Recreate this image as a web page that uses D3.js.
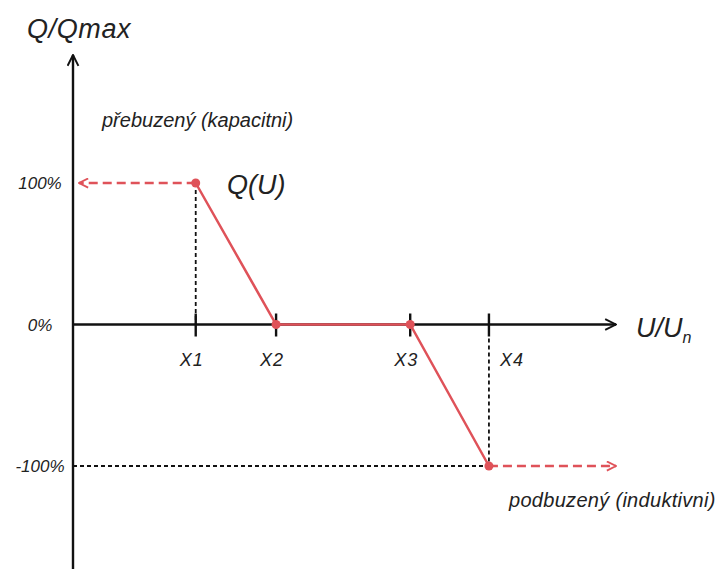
<!DOCTYPE html>
<html>
<head>
<meta charset="utf-8">
<script src="https://cdn.jsdelivr.net/npm/d3@7"></script>
<style>
  body { margin: 0; background: #fff; }
  text { font-family: "Liberation Sans", Arial, sans-serif; font-style: italic; fill: #222; }
</style>
</head>
<body>
<div id="chart"></div>
<script>
// points of the Q(U) curve
const pointLabels = ['X1', 'X2', 'X3', 'X4'];
const pointU = [22.6, 37.4, 62.1, 76.6];   // U/Un position (relative units)
const pointQ = [100, 0, 0, -100];          // Q/Qmax in %
const qTicks = [100, 0, -100];
const qTickLabels = ['100%', '0%', '-100%'];

const width = 717, height = 569;
const red = '#df5259';

const svg = d3.select('#chart').append('svg')
    .attr('width', width)
    .attr('height', height);

let x = d3.scaleLinear().domain([0, 100]).range([73, 616]);
let y = d3.scaleLinear().domain([-100, 100]).range([466, 183]);

let defs = svg.append('defs');
defs.append('marker')
    .attr('id', 'arrowBlack')
    .attr('viewBox', '0 0 12 12')
    .attr('refX', 11).attr('refY', 6)
    .attr('markerWidth', 13).attr('markerHeight', 13)
    .attr('markerUnits', 'userSpaceOnUse')
    .attr('orient', 'auto')
    .append('path')
    .attr('d', 'M1,1 L11,6 L1,11')
    .attr('fill', 'none')
    .attr('stroke', '#111')
    .attr('stroke-width', 1.8);
defs.append('marker')
    .attr('id', 'arrowRed')
    .attr('viewBox', '0 0 12 12')
    .attr('refX', 11).attr('refY', 6)
    .attr('markerWidth', 11).attr('markerHeight', 11)
    .attr('markerUnits', 'userSpaceOnUse')
    .attr('orient', 'auto')
    .append('path')
    .attr('d', 'M1,1 L11,6 L1,11')
    .attr('fill', 'none')
    .attr('stroke', red)
    .attr('stroke-width', 2);

// * AXES * //
let x0 = x(0), y0 = y(0);
svg.append('line')
    .attr('x1', x0).attr('y1', height)
    .attr('x2', x0).attr('y2', 55)
    .attr('stroke', '#111').attr('stroke-width', 2.4)
    .attr('marker-end', 'url(#arrowBlack)');
svg.append('line')
    .attr('x1', x0).attr('y1', y0)
    .attr('x2', x(100)).attr('y2', y0)
    .attr('stroke', '#111').attr('stroke-width', 2.4)
    .attr('marker-end', 'url(#arrowBlack)');

svg.append('text').text('Q/Qmax')
    .attr('x', 27).attr('y', 38)
    .style('font-size', '27px')
    .style('letter-spacing', '0.6px');
let un = svg.append('text')
    .attr('x', 636).attr('y', 337)
    .style('font-size', '27px');
un.append('tspan').text('U/U');
un.append('tspan').text('n').attr('dy', 6).style('font-size', '16px');

// q tick labels
svg.selectAll('.q-label')
    .data(qTicks)
    .enter()
    .append('text')
    .attr('class', 'q-label')
    .text((d, i) => qTickLabels[i])
    .attr('x', 40)
    .attr('y', (d) => y(d) + 6)
    .attr('text-anchor', 'middle')
    .style('font-size', '17px');

// guide lines (black dashed)
let guides = [
    [pointU[0], pointQ[0], pointU[0], 0],
    [pointU[3], 0, pointU[3], pointQ[3]],
    [0, pointQ[3], pointU[3], pointQ[3]]
];
svg.selectAll('.guide')
    .data(guides)
    .enter()
    .append('line')
    .attr('class', 'guide')
    .attr('x1', (d) => x(d[0])).attr('y1', (d) => y(d[1]))
    .attr('x2', (d) => x(d[2])).attr('y2', (d) => y(d[3]))
    .attr('stroke', '#111')
    .attr('stroke-width', 1.8)
    .attr('stroke-dasharray', '4,3');

// ticks on x axis
svg.selectAll('.x-tick')
    .data(pointU)
    .enter()
    .append('line')
    .attr('class', 'x-tick')
    .attr('x1', (d) => x(d)).attr('x2', (d) => x(d))
    .attr('y1', y0 - 11).attr('y2', y0 + 12)
    .attr('stroke', '#111').attr('stroke-width', 2.4);

svg.selectAll('.x-label')
    .data(pointLabels)
    .enter()
    .append('text')
    .attr('class', 'x-label')
    .text((d) => d)
    .attr('x', (d, i) => i == 3 ? x(pointU[i]) + 11 : x(pointU[i]) - 4)
    .attr('y', 366)
    .attr('text-anchor', (d, i) => i == 3 ? 'start' : 'middle')
    .style('font-size', '18px')
    .style('letter-spacing', '1px');

// red dashed extensions
svg.append('line')
    .attr('x1', x(pointU[0])).attr('y1', y(pointQ[0]))
    .attr('x2', x0 + 6).attr('y2', y(pointQ[0]))
    .attr('stroke', red).attr('stroke-width', 2.4)
    .attr('stroke-dasharray', '9,5')
    .attr('marker-end', 'url(#arrowRed)');
svg.append('line')
    .attr('x1', x(pointU[3])).attr('y1', y(pointQ[3]))
    .attr('x2', x(100)).attr('y2', y(pointQ[3]))
    .attr('stroke', red).attr('stroke-width', 2.4)
    .attr('stroke-dasharray', '9,5')
    .attr('marker-end', 'url(#arrowRed)');

// Q(U) curve
let line = d3.line()
    .x((d, i) => x(pointU[i]))
    .y((d) => y(d));
svg.append('path')
    .datum(pointQ)
    .attr('d', line)
    .attr('fill', 'none')
    .attr('stroke', red)
    .attr('stroke-width', 2.5);

svg.selectAll('.pt')
    .data(pointQ)
    .enter()
    .append('circle')
    .attr('class', 'pt')
    .attr('cx', (d, i) => x(pointU[i]))
    .attr('cy', (d) => y(d))
    .attr('r', 4.5)
    .attr('fill', red);

svg.append('text').text('Q(U)')
    .attr('x', 227).attr('y', 194)
    .style('font-size', '27px');

svg.append('text').text('přebuzený (kapacitni)')
    .attr('x', 102).attr('y', 127)
    .style('font-size', '20px');
svg.append('text').text('podbuzený (induktivni)')
    .attr('x', 509).attr('y', 507)
    .style('font-size', '20px')
    .style('letter-spacing', '0.3px');
</script>
</body>
</html>
